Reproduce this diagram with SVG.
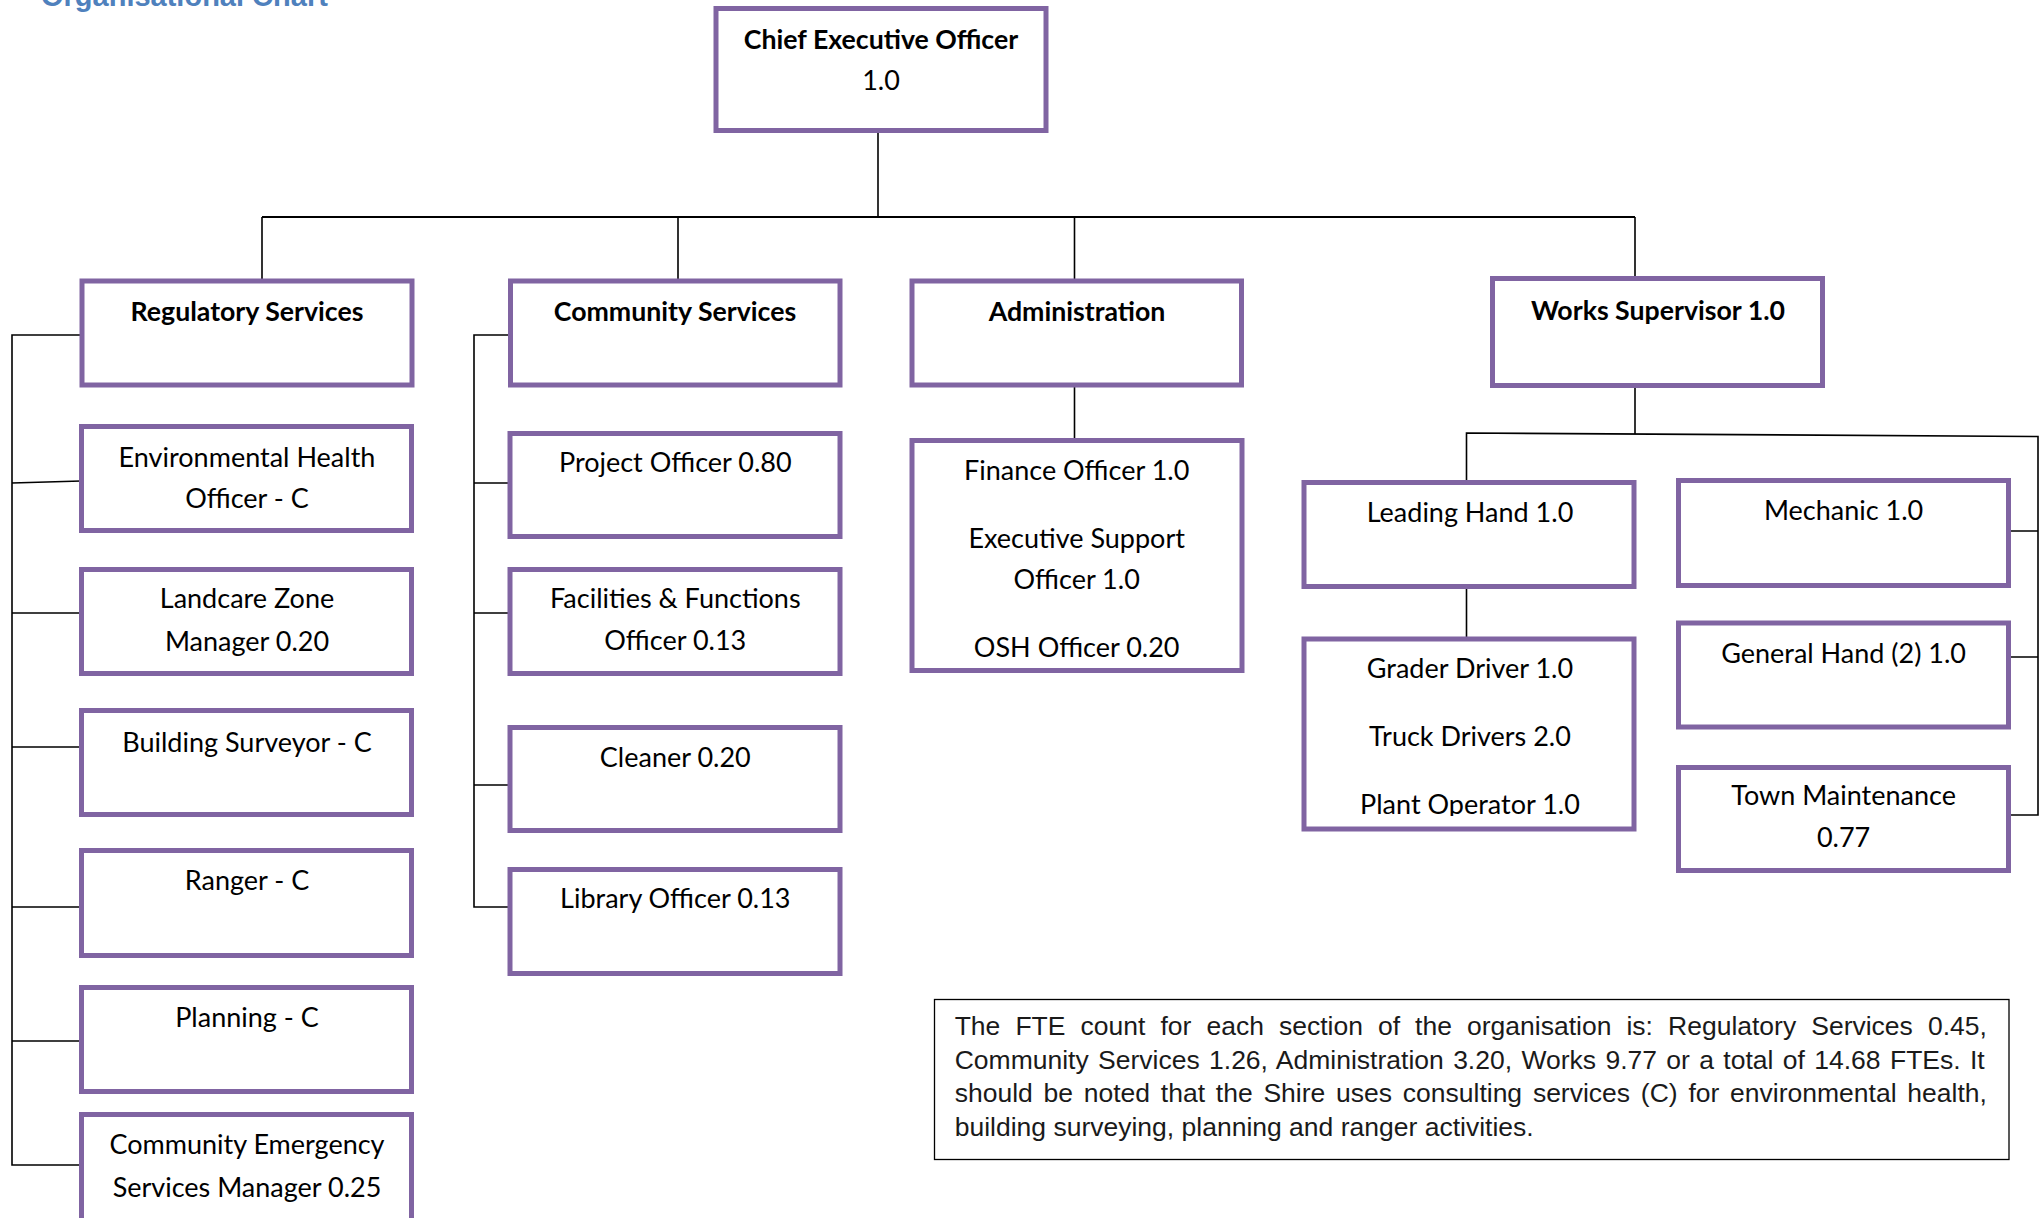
<svg xmlns="http://www.w3.org/2000/svg" width="2044" height="1218" viewBox="0 0 2044 1218">
<defs>
<style>
.box{fill:#fff;stroke:#8064A2;stroke-width:5}
.t{font-family:Lato,"Open Sans","Liberation Sans",sans-serif;font-size:27px;fill:#000;text-anchor:middle}
.b{font-weight:bold;font-size:26.7px}
.ln{fill:none;stroke:#000;stroke-width:1.6}
.bus{fill:none;stroke:#000;stroke-width:2.2}
.note{font-family:"Liberation Sans",Arial,sans-serif;font-size:26.5px;fill:#1a1a1a}
</style>
<clipPath id="gclip"><rect x="1300" y="630" width="340" height="186"/></clipPath>
</defs>
<rect x="0" y="0" width="2044" height="1218" fill="#fff"/>
<text x="41" y="6" font-family="'Liberation Sans',Arial,sans-serif" font-size="29" font-weight="bold" fill="#4F81BD">Organisational Chart</text>

<g id="connectors">
<path class="ln" d="M878 133 V217"/>
<path class="bus" d="M262 217 H1635"/>
<path class="ln" d="M262 217 V280 M678 217 V280 M1074.5 217 V280 M1635 217 V278"/>
<path class="ln" d="M81 335 H12 V1165 H81 M12 483 L81 481 M12 613 H81 M12 747 H81 M12 907 H81 M12 1041 H81"/>
<path class="ln" d="M509 335 H474 V907 H509 M474 483 H509 M474 613 H509 M474 785 H509"/>
<path class="ln" d="M1074.5 386 V441"/>
<path class="ln" d="M1635 386 V434"/>
<path class="ln" d="M1466.5 483 V433 L2038 436.5 V815 H2010 M2038 531 H2010 M2038 657 H2010"/>
<path class="ln" d="M1466.5 587 V638"/>
</g>

<g id="ceo">
<rect class="box" x="716" y="8.5" width="330" height="122"/>
<text class="t b" x="881" y="49">Chief Executive Officer</text>
<text class="t" x="881" y="90">1.0</text>
</g>

<g id="regulatory">
<rect class="box" x="82" y="281" width="330" height="104"/>
<text class="t b" x="247" y="320.5">Regulatory Services</text>
</g>
<g id="community">
<rect class="box" x="510.5" y="281" width="329.5" height="104"/>
<text class="t b" x="675" y="320.5">Community Services</text>
</g>
<g id="administration">
<rect class="box" x="912" y="281" width="329.5" height="104"/>
<text class="t b" x="1077" y="320.5">Administration</text>
</g>
<g id="works">
<rect class="box" x="1492.5" y="278.5" width="330" height="107"/>
<text class="t b" x="1658" y="320">Works Supervisor 1.0</text>
</g>

<g id="env-health">
<rect class="box" x="81.5" y="426.5" width="330" height="104"/>
<text class="t" x="247" y="466.7">Environmental Health</text>
<text class="t" x="247" y="508">Officer - C</text>
</g>
<g id="landcare">
<rect class="box" x="81.5" y="569.5" width="330" height="104"/>
<text class="t" x="247" y="608">Landcare Zone</text>
<text class="t" x="247" y="650.7">Manager 0.20</text>
</g>
<g id="building">
<rect class="box" x="81.5" y="710.5" width="330" height="104"/>
<text class="t" x="247" y="751.7">Building Surveyor - C</text>
</g>
<g id="ranger">
<rect class="box" x="81.5" y="850.5" width="330" height="105"/>
<text class="t" x="247" y="890">Ranger - C</text>
</g>
<g id="planning">
<rect class="box" x="81.5" y="987.5" width="330" height="104"/>
<text class="t" x="247" y="1026.7">Planning - C</text>
</g>
<g id="emergency">
<rect class="box" x="81.5" y="1114.5" width="330" height="112"/>
<text class="t" x="247" y="1154">Community Emergency</text>
<text class="t" x="247" y="1196.7">Services Manager 0.25</text>
</g>

<g id="project">
<rect class="box" x="510" y="433.5" width="330" height="103"/>
<text class="t" x="675.3" y="471.7">Project Officer 0.80</text>
</g>
<g id="facilities">
<rect class="box" x="510" y="569.5" width="330" height="104"/>
<text class="t" x="675.3" y="608">Facilities &amp; Functions</text>
<text class="t" x="675.3" y="650">Officer 0.13</text>
</g>
<g id="cleaner">
<rect class="box" x="510" y="727.5" width="330" height="103"/>
<text class="t" x="675.3" y="766.7">Cleaner 0.20</text>
</g>
<g id="library">
<rect class="box" x="510" y="869.5" width="330" height="104"/>
<text class="t" x="675.3" y="908.3">Library Officer 0.13</text>
</g>

<g id="admin-staff">
<rect class="box" x="912" y="440.5" width="330" height="230"/>
<text class="t" x="1076.7" y="480">Finance Officer 1.0</text>
<text class="t" x="1076.7" y="548">Executive Support</text>
<text class="t" x="1076.7" y="589">Officer 1.0</text>
<text class="t" x="1076.7" y="656.7">OSH Officer 0.20</text>
</g>

<g id="leading-hand">
<rect class="box" x="1304" y="482.5" width="330" height="104"/>
<text class="t" x="1470" y="521.7">Leading Hand 1.0</text>
</g>
<g id="drivers">
<rect class="box" x="1304" y="639" width="330" height="190"/>
<g clip-path="url(#gclip)">
<text class="t" x="1470" y="678">Grader Driver 1.0</text>
<text class="t" x="1470" y="746">Truck Drivers 2.0</text>
<text class="t" x="1470" y="814">Plant Operator 1.0</text>
</g>
</g>
<g id="mechanic">
<rect class="box" x="1678.5" y="480.5" width="330" height="105"/>
<text class="t" x="1843.6" y="520">Mechanic 1.0</text>
</g>
<g id="general-hand">
<rect class="box" x="1678.5" y="623" width="330" height="104"/>
<text class="t" x="1843.6" y="663.3">General Hand (2) 1.0</text>
</g>
<g id="town-maintenance">
<rect class="box" x="1678.5" y="767.5" width="330" height="103"/>
<text class="t" x="1843.6" y="805">Town Maintenance</text>
<text class="t" x="1843.6" y="846.7">0.77</text>
</g>

<g id="fte-note">
<rect x="934.5" y="999.5" width="1074.5" height="160" fill="#fff" stroke="#000" stroke-width="1.3"/>
<text class="note" x="954.7" y="1035" word-spacing="7.7">The FTE count for each section of the organisation is: Regulatory Services 0.45,</text>
<text class="note" x="954.7" y="1069" word-spacing="2">Community Services 1.26, Administration 3.20, Works 9.77 or a total of 14.68 FTEs. It</text>
<text class="note" x="954.7" y="1102" word-spacing="3.4">should be noted that the Shire uses consulting services (C) for environmental health,</text>
<text class="note" x="954.7" y="1136">building surveying, planning and ranger activities.</text>
</g>
</svg>
